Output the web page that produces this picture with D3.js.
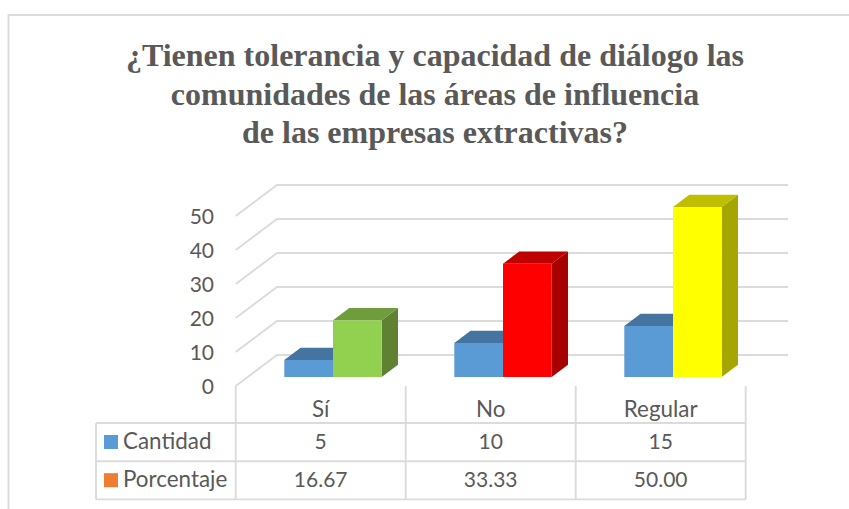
<!DOCTYPE html>
<html>
<head>
<meta charset="utf-8">
<script src="https://cdn.jsdelivr.net/npm/d3@7"></script>
<style>
  body { margin: 0; background: #fff; }
  svg { display: block; }
  text { fill: #595959; font-family: Lato, "Open Sans", sans-serif; font-size: 21px; }
  .title { font-family: "Liberation Serif", serif; font-weight: bold; font-size: 32px; text-anchor: middle; }
  .name { font-size: 22.4px; }
  .grid { stroke: #dbdbdb; stroke-width: 1.9; fill: none; }
</style>
</head>
<body>
<svg id="chart" width="849" height="509"></svg>
<script>
// data
var categories = ['Sí', 'No', 'Regular'];
var seriesNames = ['Cantidad', 'Porcentaje'];
var cantidad = [5, 10, 15];
var porcentaje = [16.67, 33.33, 50.00];
var yTicks = [0, 10, 20, 30, 40, 50];
var titleLines = [
  '¿Tienen tolerancia y capacidad de diálogo las',
  'comunidades de las áreas de influencia',
  'de las empresas extractivas?'
];

// colours: front, top, side
var blue = ['#5b9bd5', '#44749f', '#44749f'];
var barColors = {
  'Sí': ['#92d050', '#6f9c3c', '#5e8232'],
  'No': ['#ff0000', '#bf0000', '#a60000'],
  'Regular': ['#ffff00', '#bfbf00', '#a6a600']
};
var legendColors = ['#5b9bd5', '#ed7d31'];

var svg = d3.select('#chart');

// outer frame, only top and left show in the crop
svg.append('path').attr('class', 'grid')
  .attr('d', 'M8.5,509V15H849');

// title
svg.selectAll('.title')
  .data(titleLines)
  .enter().append('text')
  .attr('class', 'title')
  .attr('x', 435)
  .attr('y', function(d, i) { return 66 + i * 38.5; })
  .text(function(d) { return d; });

// scales. the floor is drawn in fake 3d so there is a front and a back copy of y
var x = d3.scaleBand().domain(categories).range([235.7, 745.7]);
var inner = d3.scaleBand().domain(seriesNames).range([48.6, 146]);
var yFront = d3.scaleLinear().domain([0, 50]).range([386, 216]);
var yBack = d3.scaleLinear().domain([0, 50]).range([355, 185]);
var yBar = d3.scaleLinear().domain([0, 50]).range([377, 207]);

var gridLeft = 277, gridRight = 788;
var depthX = 16.3, depthY = 12.3;

// gridlines with the slanted side wall bit
svg.selectAll('.gridline')
  .data(yTicks)
  .enter().append('path')
  .attr('class', 'grid gridline')
  .attr('d', function(d) {
    return 'M' + x.range()[0] + ',' + yFront(d) + 'L' + gridLeft + ',' + yBack(d) + 'H' + gridRight;
  });

// y axis labels
var axis = svg.append('g')
  .attr('transform', 'translate(214,1)')
  .call(d3.axisLeft(yFront).tickValues(yTicks).tickSize(0).tickPadding(0));
axis.select('.domain').remove();
axis.selectAll('text').style('font-size', '21px').style('font-family', 'Lato').attr('fill', null);

// one 3d bar = side, top, front
function drawBar(cat, name, value, colors) {
  var x0 = x(cat) + inner(name);
  var x1 = x0 + inner.bandwidth();
  var top = yBar(value);
  var base = yBar(0);
  var g = svg.append('g').attr('class', 'bar');
  g.append('path').attr('fill', colors[2])
    .attr('d', 'M' + x1 + ',' + top + 'l' + depthX + ',' + (-depthY) + 'V' + (base - depthY) + 'L' + x1 + ',' + base + 'Z');
  g.append('path').attr('fill', colors[1])
    .attr('d', 'M' + x0 + ',' + top + 'l' + depthX + ',' + (-depthY) + 'H' + (x1 + depthX) + 'L' + x1 + ',' + top + 'Z');
  g.append('rect').attr('fill', colors[0])
    .attr('x', x0).attr('y', top)
    .attr('width', x1 - x0).attr('height', base - top);
}

categories.forEach(function(c, i) {
  drawBar(c, 'Cantidad', cantidad[i], blue);
  drawBar(c, 'Porcentaje', porcentaje[i], barColors[c]);
});

// data table under the chart
var tableLeft = 96, tableTop = 423, rowH = 38.2;
var tableBottom = tableTop + rowH * 2;
var colEdges = categories.map(function(c) { return x(c); }).concat([x.range()[1]]);

svg.selectAll('.tcol')
  .data(colEdges)
  .enter().append('line')
  .attr('class', 'grid tcol')
  .attr('x1', function(d) { return d; })
  .attr('x2', function(d) { return d; })
  .attr('y1', yFront(0))
  .attr('y2', tableBottom);

svg.append('line').attr('class', 'grid')
  .attr('x1', tableLeft).attr('x2', tableLeft)
  .attr('y1', tableTop).attr('y2', tableBottom);

svg.selectAll('.trow')
  .data([0, 1, 2])
  .enter().append('line')
  .attr('class', 'grid trow')
  .attr('x1', tableLeft)
  .attr('x2', x.range()[1])
  .attr('y1', function(d) { return tableTop + d * rowH; })
  .attr('y2', function(d) { return tableTop + d * rowH; });

// category names above the table
svg.selectAll('.catlabel')
  .data(categories)
  .enter().append('text')
  .attr('class', 'catlabel name')
  .attr('text-anchor', 'middle')
  .attr('x', function(d) { return x(d) + x.bandwidth() / 2; })
  .attr('y', 417)
  .text(function(d) { return d; });

// rows: legend key, name, values
var rows = [
  cantidad.map(function(v) { return String(v); }),
  porcentaje.map(function(v) { return v.toFixed(2); })
];

seriesNames.forEach(function(name, r) {
  var base = tableTop + r * rowH + 26;
  svg.append('rect')
    .attr('x', 104).attr('y', base - 14)
    .attr('width', 14).attr('height', 14)
    .attr('fill', legendColors[r]);
  svg.append('text')
    .attr('class', 'name')
    .attr('x', 123).attr('y', base)
    .text(name);
  svg.selectAll('.val' + r)
    .data(rows[r])
    .enter().append('text')
    .attr('class', 'val' + r)
    .attr('text-anchor', 'middle')
    .attr('x', function(d, i) { return x(categories[i]) + x.bandwidth() / 2; })
    .attr('y', base)
    .text(function(d) { return d; });
});
</script>
</body>
</html>
